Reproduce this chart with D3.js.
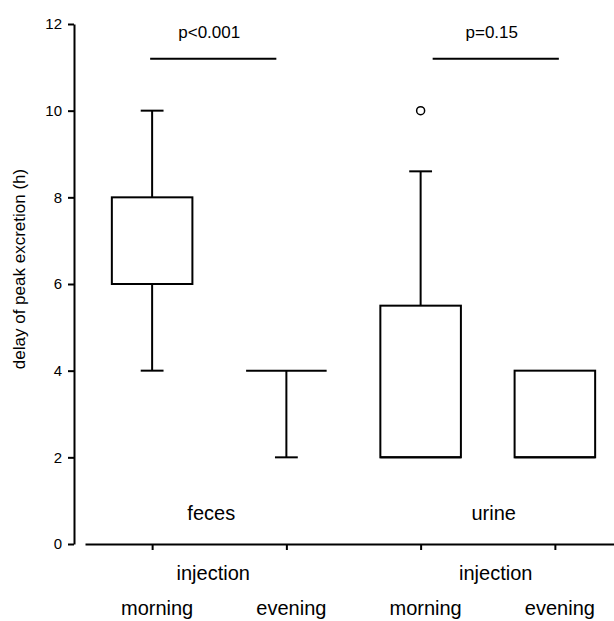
<!DOCTYPE html>
<html>
<head>
<meta charset="utf-8">
<script src="https://cdn.jsdelivr.net/npm/d3@7"></script>
<style>
  body { margin: 0; background: #fff; }
  text { font-family: "Liberation Sans", Arial, sans-serif; fill: #000; }
</style>
</head>
<body>
<svg id="chart"></svg>
<script>
// values
const groups = ["feces", "feces", "urine", "urine"];
const times = ["morning", "evening", "morning", "evening"];
const q1 = [6, 4, 2, 2];
const median = [6, 4, 2, 2];
const q3 = [8, 4, 5.5, 4];
const whiskerLow = [4, 2, 2, 2];
const whiskerHigh = [10, 4, 8.6, 4];
const outliers = [[], [], [10], []];
const yTicks = [0, 2, 4, 6, 8, 10, 12];
const groupNames = ["feces", "urine"];
const pLabels = ["p<0.001", "p=0.15"];
const pLevel = 11.2;

const width = 614, height = 621;
const svg = d3.select("#chart").attr("width", width).attr("height", height);

const y = d3.scaleLinear().domain([0, 12]).range([544, 24]);
const x = d3.scalePoint().domain(d3.range(times.length)).range([85, 622]).padding(0.5);
const step = x.step();
const boxW = step * 0.6;
const capW = step * 0.17;

const boxes = times.map((t, i) => ({
  i, group: groups[i], time: t,
  q1: q1[i], med: median[i], q3: q3[i],
  lo: whiskerLow[i], hi: whiskerHigh[i], out: outliers[i]
}));

// y axis
const yAxis = svg.append("g")
  .attr("transform", "translate(74,0)")
  .call(d3.axisLeft(y).tickValues(yTicks).tickSize(6).tickSizeOuter(0).tickPadding(6));
yAxis.selectAll("path, line").attr("stroke", "#000").attr("stroke-width", 2);
yAxis.selectAll("text").style("font-size", "15px").attr("fill", "#000");

// x axis (ticks only, labels drawn below)
const xAxis = svg.append("g")
  .attr("transform", `translate(0,${y(0)})`)
  .call(d3.axisBottom(x).tickSize(6).tickSizeOuter(0).tickFormat(""));
xAxis.selectAll("path, line").attr("stroke", "#000").attr("stroke-width", 2);

const g = svg.append("g").attr("stroke", "#000").attr("stroke-width", 2).attr("fill", "none");

const box = g.selectAll("g.box").data(boxes).join("g").attr("class", "box");

// whiskers
box.filter(d => d.hi > d.q3).append("line")
  .attr("x1", d => x(d.i)).attr("x2", d => x(d.i))
  .attr("y1", d => y(d.q3)).attr("y2", d => y(d.hi));
box.filter(d => d.hi > d.q3).append("line")
  .attr("x1", d => x(d.i) - capW / 2).attr("x2", d => x(d.i) + capW / 2)
  .attr("y1", d => y(d.hi)).attr("y2", d => y(d.hi));
box.filter(d => d.lo < d.q1).append("line")
  .attr("x1", d => x(d.i)).attr("x2", d => x(d.i))
  .attr("y1", d => y(d.q1)).attr("y2", d => y(d.lo));
box.filter(d => d.lo < d.q1).append("line")
  .attr("x1", d => x(d.i) - capW / 2).attr("x2", d => x(d.i) + capW / 2)
  .attr("y1", d => y(d.lo)).attr("y2", d => y(d.lo));

// boxes
box.append("rect")
  .attr("x", d => x(d.i) - boxW / 2)
  .attr("width", boxW)
  .attr("y", d => y(d.q3))
  .attr("height", d => y(d.q1) - y(d.q3))
  .attr("fill", "#fff");
box.append("line")
  .attr("x1", d => x(d.i) - boxW / 2).attr("x2", d => x(d.i) + boxW / 2)
  .attr("y1", d => y(d.med)).attr("y2", d => y(d.med));

// outliers
box.selectAll("circle").data(d => d.out.map(v => ({ i: d.i, v }))).join("circle")
  .attr("cx", d => x(d.i)).attr("cy", d => y(d.v)).attr("r", 4)
  .attr("stroke-width", 1.5);

// significance bars
const shift = [-6, 8];
const pairs = groupNames.map((name, k) => {
  const idx = d3.range(times.length).filter(i => groups[i] === name);
  const mid = d3.mean(idx, i => x(i)) + shift[k];
  return { name, mid, label: pLabels[k] };
});

g.selectAll("line.p").data(pairs).join("line").attr("class", "p")
  .attr("x1", d => d.mid - step * 0.47).attr("x2", d => d.mid + step * 0.47)
  .attr("y1", y(pLevel)).attr("y2", y(pLevel));

svg.selectAll("text.p").data(pairs).join("text").attr("class", "p")
  .attr("x", d => d.mid - 4).attr("y", y(pLevel) - 21)
  .attr("text-anchor", "middle").style("font-size", "17px")
  .text(d => d.label);

// group names inside the plot
svg.selectAll("text.grp").data(pairs).join("text").attr("class", "grp")
  .attr("x", d => d.mid - 2).attr("y", 520)
  .attr("text-anchor", "middle").style("font-size", "20px")
  .text(d => d.name);

// "injection" row
svg.selectAll("text.inj").data(pairs).join("text").attr("class", "inj")
  .attr("x", d => d.mid).attr("y", 580)
  .attr("text-anchor", "middle").style("font-size", "20px")
  .text("injection");

// time labels
svg.selectAll("text.time").data(boxes).join("text").attr("class", "time")
  .attr("x", d => x(d.i) + 5).attr("y", 615)
  .attr("text-anchor", "middle").style("font-size", "20px")
  .text(d => d.time);

// y label
svg.append("text")
  .attr("transform", `translate(25,${y(6) - 15}) rotate(-90)`)
  .attr("text-anchor", "middle").style("font-size", "17px")
  .text("delay of peak excretion (h)");
</script>
</body>
</html>
